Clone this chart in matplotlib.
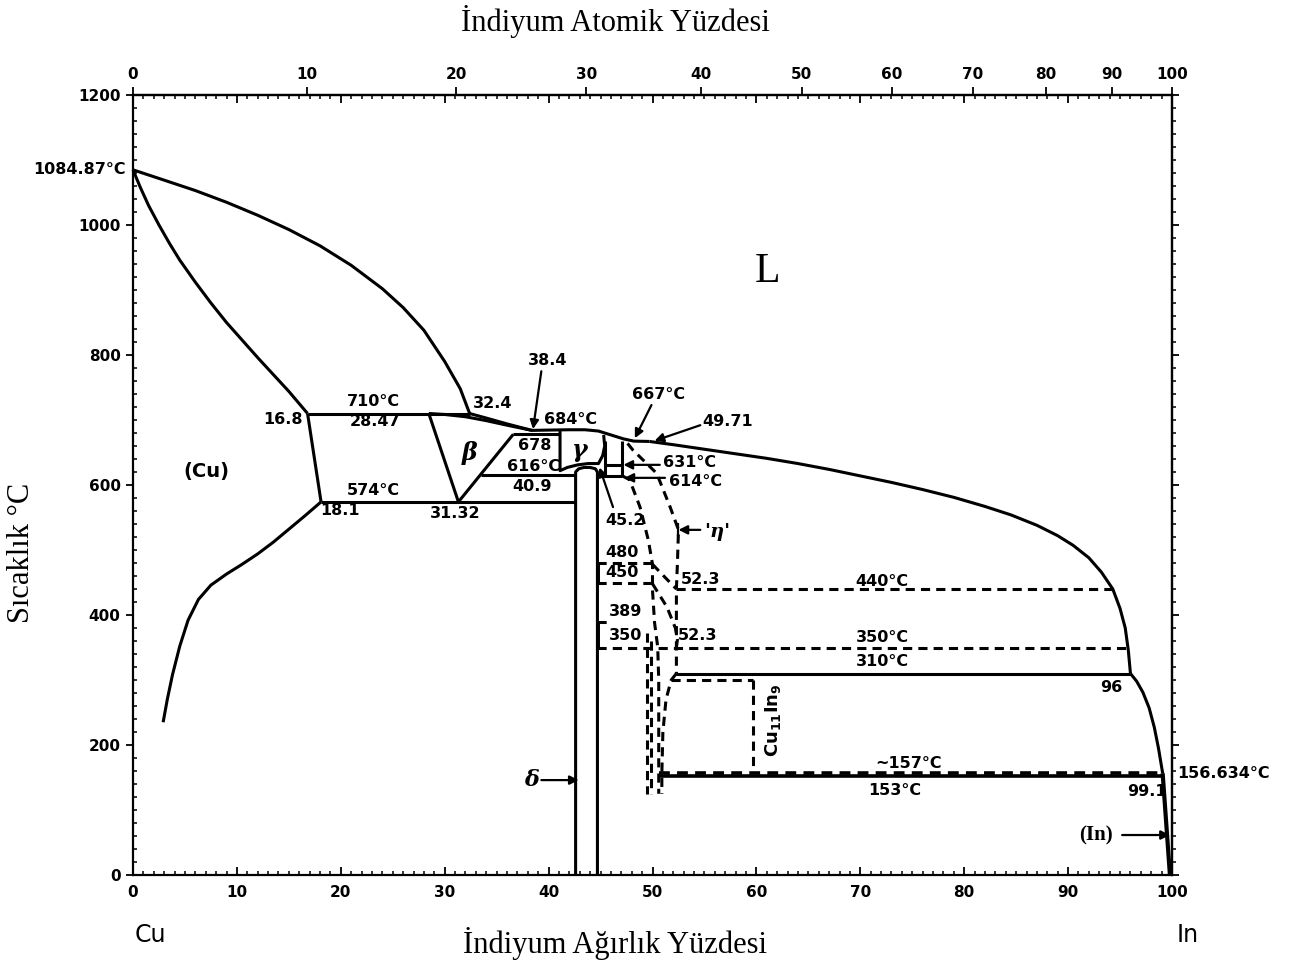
import numpy as np
import matplotlib
matplotlib.use("Agg")
import matplotlib.pyplot as plt
from matplotlib.ticker import MultipleLocator

plt.rcParams['font.family'] = ['DejaVu Sans']
plt.rcParams['font.weight'] = 'bold'
plt.rcParams['mathtext.default'] = 'bf'

# ---------------------------------------------------------------- data
M_CU, M_IN = 63.546, 114.82
T_MELT_CU = 1084.87
T_MELT_IN = 156.634

# Cu-rich liquidus / solidus / solvus (wt.% In, °C)
liq_cu_w = [0, 3, 6, 9, 12, 15, 18, 21, 24, 26, 28, 30, 31.5, 32.4]
liq_cu_T = [T_MELT_CU, 1069, 1053, 1035, 1015, 993, 968, 938, 902, 873, 838, 790, 748, 710]
sol_cu_w = [0, 0.7, 1.5, 2.5, 3.5, 4.5, 6, 7.5, 9, 10.5, 12, 13.5, 15, 16.8]
sol_cu_T = [T_MELT_CU, 1058, 1030, 1000, 972, 946, 912, 880, 850, 823, 796, 770, 744, 710]
solv_cu_hi_w = [16.8, 18.1]
solv_cu_hi_T = [710, 574]
solv_cu_lo_w = [18.1, 16.5, 15, 13.5, 12, 10.5, 9, 7.5, 6.3, 5.3, 4.5, 3.8, 3.3, 2.9]
solv_cu_lo_T = [574, 552, 532, 512, 494, 478, 463, 446, 424, 392, 352, 308, 270, 235]

# liquidus across the intermediate phases
liq_mid_w = [32.4, 34, 36, 38.4, 40, 42, 43.5, 44.8, 46, 47.2, 48.2, 49.71]
liq_mid_T = [710, 703, 694, 684, 684.5, 685, 685, 683, 677, 671, 667.5, 667]
liq_in_w = [49.71, 52, 55, 58, 61, 64, 67, 70, 73, 76, 79, 82, 84.5, 87, 89,
            90.5, 92, 93.2, 94.3, 95.0, 95.5, 95.8, 96.0]
liq_in_T = [667, 662, 655, 648, 641, 633, 624, 614, 604, 593, 581, 567, 554, 538, 522,
            507, 488, 466, 440, 410, 380, 345, 310]
liq_low_w = [96.0, 96.6, 97.2, 97.8, 98.3, 98.7, 99.1]
liq_low_T = [310, 298, 281, 257, 227, 195, T_MELT_IN]
solv_in_w = [99.1, 99.8]
solv_in_T = [T_MELT_IN, 0]

# beta phase
beta_sol_w = [28.47, 30, 32, 34, 36, 37.5, 38.4]
beta_sol_T = [710, 708.5, 705, 699, 692, 687, 684]
beta_left_w = [28.47, 31.32]
beta_left_T = [710, 574]
beta_right_w = [31.32, 36.6]
beta_right_T = [574, 678]

# gamma and delta
gamma_w = [41.1, 41.1, 41.8, 42.8, 43.8, 44.8, 45.2, 45.4, 45.3]
gamma_T = [683, 622, 627, 631, 633, 633, 645, 660, 677]
delta_w = [42.6, 42.6, 42.9, 43.4, 44.0, 44.5, 44.7, 44.7]
delta_T = [0, 620, 625, 627, 627, 625, 620, 0]
box_left_w, box_right_w = 45.4, 47.1

# eta / eta' boundaries (uncertain, dashed)
eta_left_w = [47.1, 47.8, 48.8, 49.6, 50.0, 50.0, 50.2, 50.5, 50.6, 50.6]
eta_left_T = [614, 608, 566, 515, 478, 438, 388, 351, 300, 125]
eta_right_w = [47.6, 48.1, 50.4, 51.7, 52.5, 52.4, 52.3, 52.3]
eta_right_T = [664, 654, 618, 566, 531, 480, 440, 310]
eta_480_w = [50.0, 51.2, 52.3]
eta_480_T = [478, 458, 440]
eta_450_w = [50.0, 51.4, 52.2, 52.4, 52.3]
eta_450_T = [448, 412, 380, 362, 350]
eta_low_w = [52.3, 51.8, 51.3, 51.0, 50.9, 50.9]
eta_low_T = [310, 300, 270, 220, 157, 125]
eta_extra_w = [49.5, 49.9]
eta_extra_top = [372, 360]
eta_bottom = 125
cu11in9_w = 59.7

# invariant temperatures
T710, T684, T678, T667 = 710, 684, 678, 667
T631, T616, T614, T574 = 631, 616, 614, 574
T480, T450, T440, T389, T350 = 480, 450, 440, 389, 350
T310, T300, T157, T153 = 310, 300, 157, 153

at_ticks = list(range(0, 101, 10))


def wt_to_at(w):
    w = np.asarray(w, dtype=float)
    a = w / M_IN
    b = (100 - w) / M_CU
    return 100 * a / (a + b)


def at_to_wt(a):
    a = np.asarray(a, dtype=float)
    x = a * M_IN
    y = (100 - a) * M_CU
    return 100 * x / (x + y)


# ---------------------------------------------------------------- figure
fig = plt.figure(figsize=(13.02, 9.65), dpi=100)
ax = fig.add_axes([133 / 1302, 1 - 875 / 965, (1172 - 133) / 1302, (875 - 95) / 965])
ax.set_xlim(0, 100)
ax.set_ylim(0, 1200)

LW = 2.2
DASH = (0, (3, 2))
K = 'black'


def solid(w, T, lw=LW):
    ax.plot(w, T, color=K, lw=lw, solid_capstyle='butt', solid_joinstyle='round',
            clip_on=False)


def dashed(w, T, lw=LW):
    ax.plot(w, T, color=K, lw=lw, linestyle=DASH, clip_on=False)


solid(liq_cu_w, liq_cu_T)
solid(sol_cu_w, sol_cu_T)
solid(solv_cu_hi_w, solv_cu_hi_T)
solid(solv_cu_lo_w, solv_cu_lo_T)
solid(liq_mid_w, liq_mid_T)
solid(liq_in_w, liq_in_T)
solid(liq_low_w, liq_low_T)
solid(solv_in_w, solv_in_T, lw=3)
solid(beta_sol_w, beta_sol_T)
solid(beta_left_w, beta_left_T)
solid(beta_right_w, beta_right_T)
solid(gamma_w, gamma_T)
solid(delta_w, delta_T)

# isotherms
solid([solv_cu_hi_w[0], liq_cu_w[-1]], [T710, T710])
solid([solv_cu_hi_w[1], delta_w[0]], [T574, T574])
solid([33.5, delta_w[0]], [T616, T616])
solid([beta_right_w[1], gamma_w[0]], [T678, T678])
solid([box_left_w, box_left_w], [T614, T667])
solid([box_right_w, box_right_w], [T614, T667 + 0.5])
solid([box_left_w, box_right_w], [T631, T631])
solid([delta_w[-1], box_right_w], [T614, T614])
solid([52.3, liq_in_w[-1]], [T310, T310])
solid([50.6, liq_low_w[-1]], [T153, T153], lw=2.6)

dashed([delta_w[-1], 50.0], [T480, T480])
dashed([delta_w[-1], 50.0], [T450, T450])
dashed([delta_w[-1], 45.7], [T389, T389])
dashed([delta_w[-1], liq_in_w[-2]], [T350, T350])
dashed([52.3, liq_in_w[-5]], [T440, T440])
dashed([51.8, cu11in9_w], [T300, T300])
dashed([cu11in9_w, cu11in9_w], [T300, T157])
dashed([50.6, liq_low_w[-1]], [T157, T157], lw=2.6)
solid([44.85, 44.85], [T450, T480], lw=1.4)
solid([44.85, 44.85], [T350, T389], lw=1.4)

dashed(eta_left_w, eta_left_T)
dashed(eta_right_w, eta_right_T)
dashed(eta_480_w, eta_480_T)
dashed(eta_450_w, eta_450_T)
dashed(eta_low_w, eta_low_T)
for w, top in zip(eta_extra_w, eta_extra_top):
    dashed([w, w], [top, eta_bottom])

# ---------------------------------------------------------------- labels
FS = 11.5
labels = [
    ("16.8", 14.4, 700), ("710°C", 23.1, 728), ("28.47", 23.3, 697),
    ("32.4", 34.6, 725), ("684°C", 42.1, 701), ("678", 38.7, 660),
    ("616°C", 38.6, 629), ("574°C", 23.1, 591), ("40.9", 38.4, 597),
    ("18.1", 19.9, 561), ("31.32", 31.0, 556), ("480", 47.1, 496),
    ("450", 47.1, 466), ("52.3", 54.6, 455), ("440°C", 72.1, 451),
    ("389", 47.4, 405), ("350", 47.4, 368), ("52.3", 54.3, 368),
    ("350°C", 72.1, 366), ("310°C", 72.1, 328), ("96", 94.2, 289),
    ("~157°C", 74.6, 172), ("153°C", 73.3, 130), ("99.1", 97.6, 129),
]
for s, x, y in labels:
    ax.text(x, y, s, fontsize=FS, ha='center', va='center')

ax.text(7.1, 620, "(Cu)", fontsize=14, ha='center', va='center')
ax.text(61.1, 928, "L", fontsize=30, ha='center', va='center',
        family='Liberation Serif', fontweight='normal')
ax.text(32.4, 649, "β", fontsize=17, ha='center', va='center',
        family='DejaVu Serif', style='italic')
ax.text(43.0, 654, "γ", fontsize=17, ha='center', va='center',
        family='DejaVu Serif', style='italic')
ax.text(61.6, 238, "Cu$_{11}$In$_9$", fontsize=13, rotation=90,
        ha='center', va='center')
ax.text(-0.7, T_MELT_CU, "1084.87°C", fontsize=FS, ha='right', va='center', clip_on=False)
ax.text(100.5, T_MELT_IN, "156.634°C", fontsize=FS, ha='left', va='center', clip_on=False)

ARROW = dict(arrowstyle='-|>', color=K, lw=1.6, mutation_scale=13, shrinkA=0, shrinkB=0)
arrows = [
    ("38.4", (39.9, 792), (39.3, 775), (38.5, 686)),
    ("667°C", (50.6, 739), (49.9, 723), (48.3, 672)),
    ("49.71", (57.2, 697), (54.6, 692), (50.2, 668)),
    ("631°C", (53.6, 635), (50.7, T631), (47.2, T631)),
    ("614°C", (54.1, 605), (51.2, T614 - 3), (47.3, T614 - 3)),
    ("45.2", (47.4, 546), (46.2, 566), (44.9, 627)),
]
for s, (tx, ty), tail, tip in arrows:
    ax.text(tx, ty, s, fontsize=FS, ha='center', va='center')
    ax.annotate("", xy=tip, xytext=tail, arrowprops=ARROW)

ax.text(56.2, 528, "'η'", fontsize=14, ha='center', va='center',
        family='DejaVu Serif', style='italic')
ax.annotate("", xy=(52.5, 531), xytext=(54.6, 531), arrowprops=ARROW)
solid([52.5, 52.5], [521, 541], lw=1.6)

ax.text(38.4, 146, "δ", fontsize=16, ha='center', va='center',
        family='DejaVu Serif', style='italic')
ax.annotate("", xy=(42.9, 146), xytext=(39.3, 146), arrowprops=ARROW)

ax.text(92.7, 61.5, "(In)", fontsize=15, ha='center', va='center',
        family='Liberation Serif')
ax.annotate("", xy=(99.8, 61.5), xytext=(95.2, 61.5), arrowprops=ARROW)

# ---------------------------------------------------------------- axes
for sp in ax.spines.values():
    sp.set_linewidth(1.6)

ax.xaxis.set_major_locator(MultipleLocator(10))
ax.xaxis.set_minor_locator(MultipleLocator(1))
ax.yaxis.set_major_locator(MultipleLocator(200))
ax.yaxis.set_minor_locator(MultipleLocator(20))
ax.tick_params(axis='x', which='major', direction='in', length=6, width=1.3,
               top=True, bottom=True, labelsize=11, pad=7)
ax.tick_params(axis='x', which='minor', direction='in', length=3, width=1.1,
               top=True, bottom=True)
ax.tick_params(axis='y', which='major', direction='out', length=5, width=1.3,
               left=True, right=False, labelsize=11, pad=4)
ax.tick_params(axis='y', which='minor', direction='in', length=3, width=1.1,
               left=True, right=False)

secy = ax.secondary_yaxis('right')
secy.yaxis.set_major_locator(MultipleLocator(200))
secy.yaxis.set_minor_locator(MultipleLocator(20))
secy.tick_params(which='major', direction='out', length=5, width=1.3, labelright=False)
secy.tick_params(which='minor', direction='out', length=3, width=1.1)
secy.spines['right'].set_linewidth(1.6)

secx = ax.secondary_xaxis('top', functions=(wt_to_at, at_to_wt))
secx.set_xticks(at_ticks)
secx.tick_params(which='major', direction='out', length=6, width=1.3, labelsize=11, pad=3)
secx.tick_params(which='minor', length=0)
secx.spines['top'].set_linewidth(1.6)

# ---------------------------------------------------------------- titles
TITLE = dict(family='Liberation Serif', fontweight='normal', fontsize=22)
fig.text(615 / 1302, 1 - 22 / 965, "İndiyum Atomik Yüzdesi", ha='center', va='center', **TITLE)
fig.text(615 / 1302, 1 - 943 / 965, "İndiyum Ağırlık Yüzdesi", ha='center', va='center', **TITLE)
fig.text(22 / 1302, 1 - 553 / 965, "Sıcaklık °C", ha='center', va='center', rotation=90, **TITLE)
fig.text(150 / 1302, 1 - 935 / 965, "Cu", ha='center', va='center', fontsize=17, fontweight='normal')
fig.text(1188 / 1302, 1 - 935 / 965, "In", ha='center', va='center', fontsize=17, fontweight='normal')

fig.savefig("out.png", dpi=100)
